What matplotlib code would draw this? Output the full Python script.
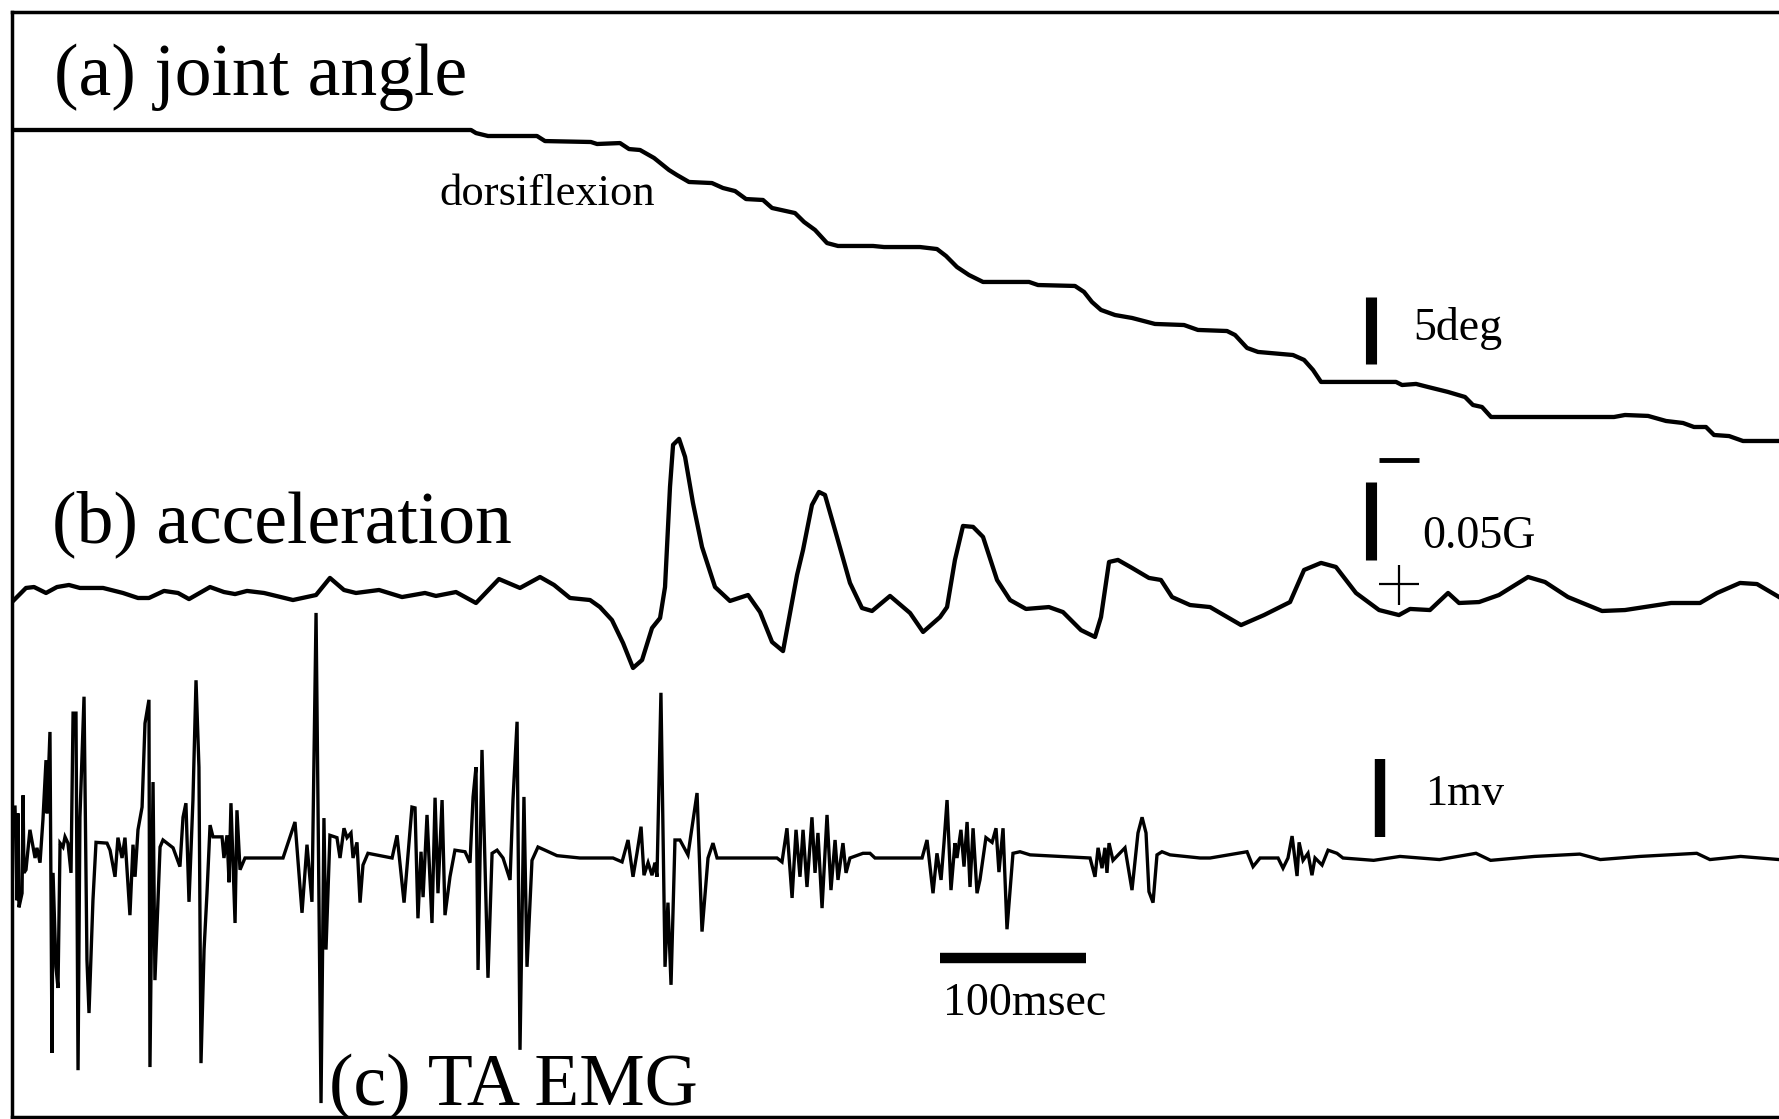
import matplotlib
matplotlib.use("Agg")
import matplotlib.pyplot as plt

# (a) joint angle, deg relative to start, time in msec
angle_t = [0, 312.6, 316.0, 324.2, 357.7, 363.2, 394.6, 398.8, 414.5, 420.7, 428.2, 437.8,
           448.0, 453.5, 461.7, 477.4, 484.9, 493.2, 500.7, 512.3, 518.5, 534.2, 540.4,
           547.9, 556.1, 563.6, 587.6, 595.1, 619.7, 631.3, 637.5, 645.0, 653.2, 662.8,
           694.3, 700.4, 725.7, 731.9, 737.3, 743.5, 753.1, 764.7, 780.4, 800.3, 809.8,
           829.7, 835.2, 843.4, 850.9, 874.8, 882.4, 888.5, 894.0, 945.3, 949.4, 959.0,
           967.2, 980.8, 992.5, 997.9, 1004.1, 1010.3, 1094.4, 1101.9, 1117.7, 1130.0,
           1141.6, 1149.1, 1157.3, 1162.8, 1173.1, 1182.6, 1207.3]
angle_deg = [0, 0, -0.23, -0.45, -0.45, -0.83, -0.90, -1.05, -0.98, -1.43, -1.50, -2.10,
             -3.00, -3.38, -3.90, -3.98, -4.35, -4.58, -5.18, -5.25, -5.85, -6.23, -6.90,
             -7.50, -8.48, -8.70, -8.70, -8.78, -8.78, -8.93, -9.45, -10.28, -10.88, -11.40,
             -11.40, -11.63, -11.70, -12.15, -12.90, -13.50, -13.88, -14.10, -14.55, -14.63,
             -15.00, -15.08, -15.38, -16.35, -16.65, -16.88, -17.25, -18.00, -18.90, -18.90,
             -19.13, -19.05, -19.28, -19.65, -20.03, -20.63, -20.78, -21.53, -21.53, -21.38,
             -21.45, -21.83, -21.98, -22.28, -22.28, -22.88, -22.96, -23.33, -23.33]

# (b) acceleration in G (positive = downward on the chart)
acc_t = [0, 8.2, 13.7, 21.9, 29.4, 37.6, 45.1, 60.9, 74.5, 84.8, 92.3, 102.6, 112.2, 119.7,
         134.1, 143.6, 151.2, 159.4, 171.0, 190.8, 206.6, 216.1, 225.7, 233.9, 249.7, 265.4,
         281.1, 288.6, 302.3, 316.0, 331.7, 346.1, 359.8, 369.4, 380.3, 394.0, 400.8, 409.0,
         416.6, 423.4, 429.6, 436.4, 441.9, 445.3, 448.7, 450.8, 454.9, 459.0, 464.4, 470.6,
         479.5, 489.7, 502.1, 510.3, 518.5, 526.0, 535.6, 539.7, 545.8, 550.6, 554.7, 562.9,
         571.8, 580.0, 586.9, 599.2, 612.9, 621.8, 633.4, 638.2, 643.6, 649.1, 656.0, 662.8,
         672.4, 681.3, 692.2, 707.9, 717.5, 729.8, 739.4, 743.5, 749.0, 755.1, 764.7, 776.3,
         784.5, 792.1, 804.4, 818.1, 839.3, 855.0, 872.8, 882.4, 894.0, 904.2, 917.9, 933.7,
         947.3, 954.9, 968.5, 980.9, 988.4, 1002.1, 1015.7, 1035.6, 1047.2, 1062.9, 1086.2,
         1101.9, 1133.4, 1153.2, 1164.9, 1180.6, 1192.2, 1207.3]
acc_g = [0.0064, -0.0013, -0.0019, 0.0019, -0.0019, -0.0032, -0.0013, -0.0013, 0.0019, 0.0051,
         0.0051, 0.0006, 0.0019, 0.0058, -0.0019, 0.0013, 0.0026, 0.0006, 0.0019, 0.0064,
         0.0032, -0.0077, 0.0, 0.0019, 0.0, 0.0045, 0.0019, 0.0038, 0.0013, 0.0083, -0.0070,
         -0.0013, -0.0083, -0.0032, 0.0051, 0.0064, 0.0109, 0.0192, 0.0339, 0.0498, 0.0447,
         0.0243, 0.0179, -0.0019, -0.0658, -0.0927, -0.0965, -0.0850, -0.0556, -0.0275,
         -0.0019, 0.0070, 0.0032, 0.0141, 0.0332, 0.0390, -0.0096, -0.0256, -0.0543, -0.0626,
         -0.0607, -0.0339, -0.0045, 0.0115, 0.0134, 0.0038, 0.0147, 0.0268, 0.0173, 0.0109,
         -0.0192, -0.0409, -0.0403, -0.0339, -0.0064, 0.0064, 0.0121, 0.0109, 0.0141, 0.0256,
         0.0300, 0.0173, -0.0179, -0.0192, -0.0141, -0.0077, -0.0064, 0.0045, 0.0096, 0.0109,
         0.0224, 0.0160, 0.0077, -0.0128, -0.0173, -0.0147, 0.0019, 0.0128, 0.0160, 0.0121,
         0.0128, 0.0019, 0.0083, 0.0077, 0.0032, -0.0083, -0.0051, 0.0045, 0.0134, 0.0128,
         0.0083, 0.0083, 0.0019, -0.0045, -0.0038, 0.0045]

# (c) TA EMG in mV
emg_t = [0.7, 2.1, 2.7, 3.4, 5.5, 6.2, 6.8, 8.2, 10.9, 13.0, 14.4, 15.7, 17.8, 19.8, 21.9, 22.6,
         24.6, 26.0, 26.7, 28.7, 30.1, 31.5, 33.5, 34.9, 36.9, 39.0, 40.4, 42.4, 43.8, 45.1,
         47.9, 49.9, 51.3, 54.0, 56.1, 63.6, 65.7, 69.1, 71.1, 73.9, 75.9, 79.3, 81.4, 82.8,
         84.8, 87.6, 89.6, 92.3, 93.0, 95.1, 96.4, 99.9, 101.9, 108.8, 113.5, 115.6, 117.6,
         119.7, 122.4, 124.5, 126.5, 127.9, 130.0, 132.0, 134.1, 136.1, 142.3, 143.6, 145.7,
         147.1, 148.4, 151.2, 152.5, 154.6, 158.0, 184.0,
         192.2, 197.0, 200.4, 203.8, 206.6, 210.0, 212.0, 213.4, 216.1, 220.9, 223.0, 225.7,
         227.8, 230.5, 231.9, 234.6, 236.7, 238.7, 242.1, 258.6, 262.0, 266.8, 269.5, 272.2,
         274.3, 276.3, 278.4, 279.8, 282.5, 285.9, 288.0, 290.0, 292.8, 294.8, 298.2, 301.6,
         308.5, 311.9, 314.0, 316.0, 317.4, 320.1, 324.2, 327.0, 330.4, 334.5, 339.3, 341.3,
         344.1, 346.1, 348.8, 350.9, 354.3, 358.4, 363.2, 371.4,
         387.1, 409.7, 415.9, 420.0, 423.4, 426.1, 428.9, 430.9, 433.7, 436.4, 438.4, 439.8,
         442.5, 445.3, 447.3, 449.4, 452.1, 455.5, 461.0, 467.2, 470.6, 474.7, 478.1, 480.9,
         521.9, 525.3, 528.7, 532.2, 534.9, 537.6, 539.7, 542.4, 545.8, 547.9, 549.9, 552.7,
         556.1, 558.8, 561.6, 563.6, 567.0, 569.1, 571.8, 580.7, 585.5,
         588.9, 621.1, 624.5, 628.6, 631.3, 634.1, 636.1, 638.2, 640.9, 643.6, 645.0, 647.7,
         649.8, 651.9, 653.9, 656.0, 658.7, 660.7, 664.8, 669.0, 671.7, 673.7, 676.5, 679.2,
         683.3, 688.1, 695.0, 736.0, 739.4, 741.5, 744.2, 746.2, 747.6, 749.0, 751.7, 759.9,
         764.7, 768.8, 771.6, 774.3, 776.3, 779.1, 781.8, 785.2, 790.7,
         811.3, 818.1, 843.4, 847.5, 852.3, 864.6, 868.0, 871.4, 874.2, 877.6, 879.0, 881.7,
         885.1, 887.8, 889.9, 894.7, 898.8, 904.9, 909.0,
         930, 948, 975, 1000, 1010, 1040, 1071, 1085, 1112, 1151, 1160, 1181, 1207.3]
emg_mv = [0.65, -0.54, 0.57, -0.63, -0.45, 0.80, -0.19, -0.15, 0.36, 0.14, 0, 0.13, -0.06, 0.49,
          1.25, 0.57, 1.61, -2.49, -0.19, -1.39, -1.66, 0.19, 0.14, 0.27, 0.19, -0.19, 1.85,
          1.85, -2.71, 0.52, 2.06, -1.30, -1.98, -0.54, 0.20, 0.19, 0.10, -0.24, 0.26, 0, 0.26,
          -0.73, 0.17, -0.24, 0.36, 0.65, 1.72, 2.02, -2.67, 0.97, -1.56, 0.14, 0.23, 0.13,
          -0.11, 0.52, 0.70, -0.56, 0.74, 2.27, 1.16, -2.62, -1.17, -0.45, 0.42, 0.27, 0.27, 0,
          0.29, -0.31, 0.70, -0.83, 0.61, -0.15, 0, 0,
          0.46, -0.70, 0.17, -0.56, 3.13, -3.13, 0.51, -1.17, 0.29, 0.26, 0, 0.38, 0.26, 0.32,
          0, 0.20, -0.57, -0.09, 0.06, 0, 0.29, -0.57, 0.04, 0.65, 0.64, -0.77, 0.08, -0.50,
          0.55, -0.83, 0.77, -0.45, 0.74, -0.73, -0.24, 0.10, 0.08, -0.06, 0.78, 1.16, -1.43,
          1.38, -1.53, 0.06, 0.10, 0, -0.28, 0.74, 1.74, -2.45, 0.78, -1.39, -0.03, 0.14, 0.10,
          0.03,
          0, 0, -0.05, 0.23, -0.24, 0.06, 0.40, -0.22, -0.06, -0.22, -0.06, -0.24, 2.11, -1.39,
          -0.57, -1.62, 0.23, 0.23, 0.04, 0.83, -0.94, 0, 0.19, 0, 0, -0.05, 0.38, -0.51, 0.36,
          -0.24, 0.36, -0.37, 0.52, -0.19, 0.32, -0.64, 0.55, -0.41, 0.23, -0.28, 0.19, -0.19,
          0, 0.06, 0.06,
          0, 0, 0.23, -0.45, 0.06, -0.28, 0.19, 0.74, -0.41, 0.19, 0, 0.36, -0.11, 0.46, -0.37,
          0.38, -0.45, -0.28, 0.26, 0.20, 0.38, -0.18, 0.38, -0.91, 0.06, 0.08, 0.04, 0, -0.24,
          0.13, -0.13, 0.13, -0.19, 0.19, -0.03, 0.13, -0.41, 0.32, 0.52, 0.32, -0.43, -0.57,
          0.04, 0.08, 0.04,
          0, 0, 0.08, -0.11, 0, 0, -0.13, 0, 0.28, -0.23, 0.20, -0.03, 0.06, -0.22, 0, -0.09,
          0.10, 0.06, 0,
          -0.03, 0.02, -0.02, 0.06, -0.03, 0.02, 0.05, -0.02, 0.02, 0.06, -0.02, 0.02, -0.02]

# layout of the scanned figure (pixels)
W, H = 1779, 1119
T0_PX = 14          # x pixel of t = 0
PX_PER_MS = 1.462
SERIF = "Liberation Serif"

fig = plt.figure(figsize=(W / 100, H / 100), dpi=100)


def overlay(y0_px, px_per_unit, flip=False):
    ax = fig.add_axes([0, 0, 1, 1])
    ax.set_xlim(-T0_PX / PX_PER_MS, (W - T0_PX) / PX_PER_MS)
    top = y0_px / px_per_unit
    bottom = -(H - y0_px) / px_per_unit
    if flip:
        ax.set_ylim(-bottom, -top)
    else:
        ax.set_ylim(bottom, top)
    ax.axis("off")
    ax.patch.set_alpha(0)
    return ax


def label(x_px, y_px, s, size):
    fig.text(x_px / W, 1 - y_px / H, s, ha="left", va="baseline",
             fontsize=size, family=SERIF, color="black")


# frame
frame = fig.add_axes([12 / W, 2 / H, 1 - 12 / W, 1105 / H])
frame.set_xticks([])
frame.set_yticks([])
frame.spines["right"].set_visible(False)
for s in ("top", "left", "bottom"):
    frame.spines[s].set_linewidth(2.5)

ax_a = overlay(130, 13.33)
ax_b = overlay(590, 1566, flip=True)
ax_c = overlay(858, 78.3)

ax_a.plot(angle_t, angle_deg, color="black", lw=3.1, solid_joinstyle="round")
ax_b.plot(acc_t, acc_g, color="black", lw=3.1, solid_joinstyle="round")
ax_c.plot(emg_t, emg_mv, color="black", lw=2.4, solid_joinstyle="miter")

# scale bars
ax_a.plot([928.2, 928.2], [-12.53, -17.53], color="black", lw=8, solid_capstyle="butt")
ax_b.plot([928.2, 928.2], [-0.069, -0.019], color="black", lw=8, solid_capstyle="butt")
ax_b.plot([933.6, 961.0], [-0.083, -0.083], color="black", lw=3.5, solid_capstyle="butt")
ax_b.plot([933.6, 961.0], [-0.0038, -0.0038], color="black", lw=1.6, solid_capstyle="butt")
ax_b.plot([947.3, 947.3], [-0.016, 0.0096], color="black", lw=1.6, solid_capstyle="butt")
ax_c.plot([934.3, 934.3], [0.27, 1.27], color="black", lw=7.5, solid_capstyle="butt")
ax_c.plot([633.4, 733.4], [-1.277, -1.277], color="black", lw=7.5, solid_capstyle="butt")

label(54, 95, "(a) joint angle", 53)
label(52, 542, "(b) acceleration", 53)
label(329, 1105, "(c) TA EMG", 53)
label(439, 205, "dorsiflexion", 32)
label(1413, 340, "5deg", 33)
label(1422, 548, "0.05G", 33)
label(1425, 805, "1mv", 32)
label(943, 1015, "100msec", 33)

fig.savefig("out.png", dpi=100)
